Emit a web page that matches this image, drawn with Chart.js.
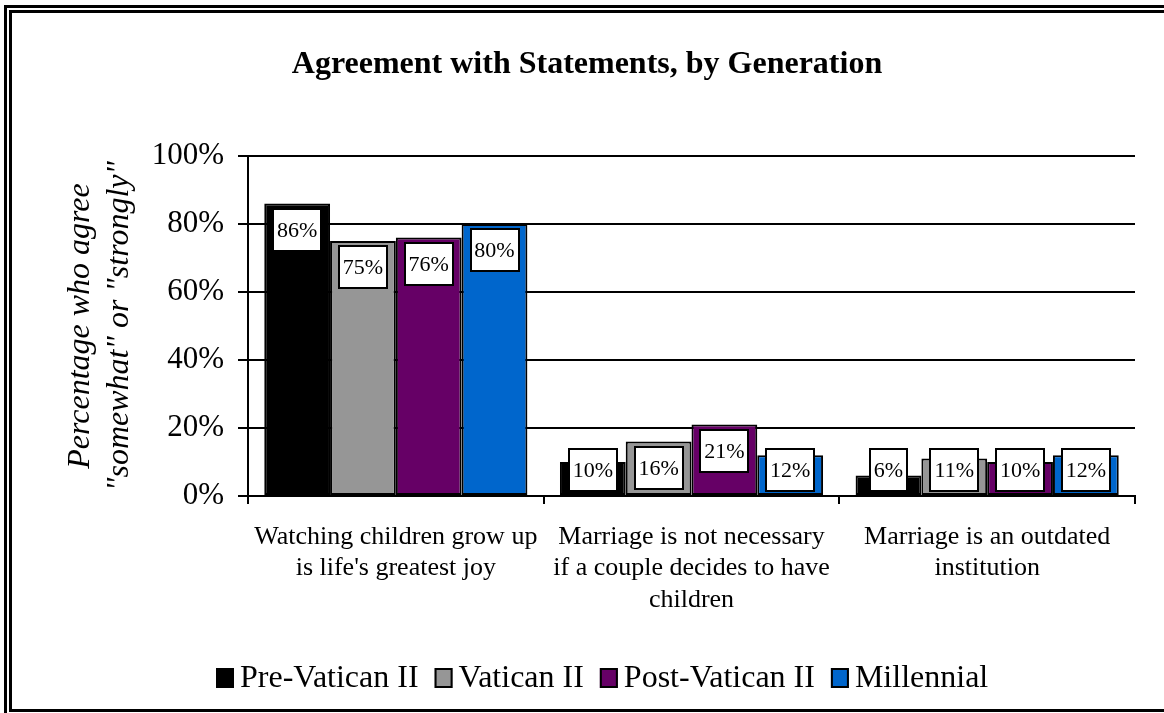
<!DOCTYPE html>
<html>
<head>
<meta charset="utf-8">
<title>Agreement with Statements, by Generation</title>
<script src="https://cdn.jsdelivr.net/npm/chart.js@4/dist/chart.umd.min.js"></script>
<style>
    html, body { margin: 0; padding: 0; background: #ffffff; }
    #wrap { width: 1164px; height: 713px; }
</style>
</head>
<body>
<div id="wrap"><canvas id="genChart" width="1164" height="713"></canvas></div>
<script>
// ==========================================
// DATA
// ==========================================

const categories = [
    ['Watching children grow up', "is life's greatest joy"],
    ['Marriage is not necessary', 'if a couple decides to have', 'children'],
    ['Marriage is an outdated', 'institution']
];
const seriesNames = ['Pre-Vatican II', 'Vatican II', 'Post-Vatican II', 'Millennial'];
const preVatican = [86, 10, 6];
const vatican = [75, 16, 11];
const postVatican = [76, 21, 10];
const millennial = [80, 12, 12];
const yTicks = [0, 20, 40, 60, 80, 100];

const seriesColors = ['#000000', '#969696', '#660066', '#0066CC'];
const serif = "'Liberation Serif', 'Times New Roman', serif";

// ==========================================
// PLUGINS
// ==========================================

// white page + double frame round the chart
const framePlugin = {
    id: 'frame',
    beforeDraw(chart) {
        const ctx = chart.ctx;
        ctx.save();
        ctx.fillStyle = '#ffffff';
        ctx.fillRect(0, 0, chart.width, chart.height);
        ctx.strokeStyle = '#000000';
        ctx.lineWidth = 3;
        ctx.strokeRect(5.5, 6.5, 1200, 720);
        ctx.strokeRect(10.5, 11.5, 1200, 699);
        ctx.restore();
    }
};

// white boxed value labels near the top of each bar
const valueBoxes = {
    id: 'valueBoxes',
    afterDatasetsDraw(chart) {
        const ctx = chart.ctx;
        ctx.save();
        ctx.font = '22px ' + serif;
        ctx.textAlign = 'center';
        ctx.textBaseline = 'middle';
        chart.data.datasets.forEach((ds, i) => {
            const meta = chart.getDatasetMeta(i);
            meta.data.forEach((bar, j) => {
                const text = ds.data[j] + '%';
                const w = Math.round(ctx.measureText(text).width) + 8;
                const h = 42;
                const top = Math.round(Math.min(bar.y + 5, bar.base - 46));
                const left = Math.round(bar.x - w / 2);
                ctx.fillStyle = '#ffffff';
                ctx.fillRect(left, top, w, h);
                ctx.strokeStyle = '#000000';
                ctx.lineWidth = 2;
                ctx.strokeRect(left, top, w, h);
                ctx.fillStyle = '#000000';
                ctx.fillText(text, bar.x, top + h / 2 + 1);
            });
        });
        ctx.restore();
    }
};

// legend row under the axis: small square, tight gap, name
const legendRow = {
    id: 'legendRow',
    afterDraw(chart) {
        const ctx = chart.ctx;
        const boxW = 18, boxH = 20, gap = 6, spacing = 16;
        const cy = 678;
        ctx.save();
        ctx.font = '32px ' + serif;
        ctx.textBaseline = 'middle';
        ctx.textAlign = 'left';
        const items = chart.data.datasets.map(ds => ({
            text: ds.label,
            fill: ds.backgroundColor,
            width: ctx.measureText(ds.label).width
        }));
        const total = items.reduce((s, it) => s + boxW + gap + it.width, 0) + spacing * (items.length - 1);
        let x = Math.round(602 - total / 2);
        items.forEach(it => {
            ctx.fillStyle = it.fill;
            ctx.fillRect(x, cy - boxH / 2, boxW, boxH);
            ctx.strokeStyle = '#000000';
            ctx.lineWidth = 2;
            ctx.strokeRect(x + 1, cy - boxH / 2 + 1, boxW - 2, boxH - 2);
            ctx.fillStyle = '#000000';
            ctx.fillText(it.text, x + boxW + gap, cy + 1);
            x += boxW + gap + it.width + spacing;
        });
        ctx.restore();
    }
};

// ==========================================
// CHART
// ==========================================

const seriesData = [preVatican, vatican, postVatican, millennial];

const genChart = new Chart(document.getElementById('genChart').getContext('2d'), {
    type: 'bar',
    data: {
        labels: categories,
        datasets: seriesNames.map((name, i) => ({
            label: name,
            data: seriesData[i],
            backgroundColor: seriesColors[i],
            borderColor: '#000000',
            borderWidth: 2,
            borderSkipped: false,
            categoryPercentage: 0.89,
            barPercentage: 1.0
        }))
    },
    options: {
        responsive: false,
        animation: false,
        devicePixelRatio: 1,
        layout: {
            padding: { left: 39, right: 29, top: 0, bottom: 59 }
        },
        plugins: {
            title: {
                display: true,
                text: 'Agreement with Statements, by Generation',
                color: '#000000',
                font: { family: serif, size: 32, weight: 'bold', lineHeight: 1.2 },
                padding: { top: 46, bottom: 71.6 }
            },
            legend: { display: false },
            tooltip: { enabled: false }
        },
        scales: {
            x: {
                grid: {
                    display: true,
                    drawOnChartArea: false,
                    drawTicks: true,
                    tickLength: 8,
                    color: '#000000',
                    lineWidth: 2
                },
                border: { display: true, color: '#000000', width: 2 },
                ticks: {
                    color: '#000000',
                    padding: 17,
                    maxRotation: 0,
                    autoSkip: false,
                    font: { family: serif, size: 26, lineHeight: 1.22 }
                },
                afterFit(scale) {
                    scale.height = 158;
                }
            },
            y: {
                min: 0,
                max: 100,
                afterBuildTicks(scale) {
                    scale.ticks = yTicks.map(v => ({ value: v }));
                },
                grid: {
                    color: '#000000',
                    lineWidth: 2,
                    tickLength: 10
                },
                border: { display: true, color: '#000000', width: 2 },
                ticks: {
                    color: '#000000',
                    padding: 14,
                    font: { family: serif, size: 31 },
                    callback: v => v + '%'
                },
                title: {
                    display: true,
                    text: ['Percentage who agree', '"somewhat" or "strongly"'],
                    color: '#000000',
                    font: { family: serif, size: 32, style: 'italic', lineHeight: 1.19 },
                    padding: { top: 23, bottom: 0 }
                },
                afterFit(scale) {
                    scale.width = 209;
                }
            }
        }
    },
    plugins: [framePlugin, valueBoxes, legendRow]
});
</script>
</body>
</html>
